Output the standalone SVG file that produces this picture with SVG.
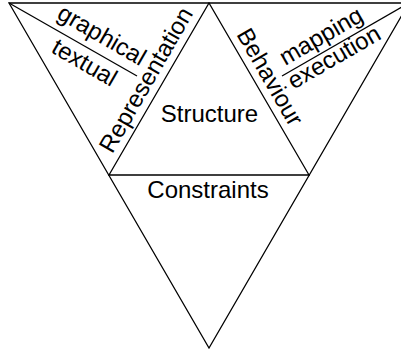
<svg xmlns="http://www.w3.org/2000/svg" width="401" height="353" viewBox="0 0 401 353">
<style>
.ln{fill:none;stroke:#000;stroke-width:1.3;stroke-linejoin:miter}
.t{font-family:"Liberation Sans",Arial,sans-serif;font-size:24px;fill:#000;text-anchor:middle}
</style>
<rect width="401" height="353" fill="#fff"/>
<g id="outer">
<polygon class="ln" points="9,3 409,3 209,348"/>
</g>
<g id="structure">
<polygon class="ln" points="109,175 209,3 309,175"/>
<text class="t" x="209.5" y="122">Structure</text>
</g>
<g id="constraints">
<text class="t" x="208" y="197.5">Constraints</text>
</g>
<g id="representation">
<text class="t" x="153" y="84" transform="rotate(-60 153 84)">Representation</text>
<text class="t" x="98" y="42" transform="rotate(30 98 42)">graphical</text>
<text class="t" x="80.5" y="69.5" transform="rotate(30 80.5 69.5)">textual</text>
</g>
<g id="behaviour">
<text class="t" x="263" y="81" transform="rotate(60 263 81)">Behaviour</text>
<text class="t" x="325" y="43" transform="rotate(-30 325 43)">mapping</text>
<text class="t" x="338" y="64" transform="rotate(-30 338 64)">execution</text>
</g>
<g id="connectors">
<line class="ln" x1="9" y1="3" x2="137" y2="76"/>
<line class="ln" x1="409" y1="3" x2="282" y2="76"/>
</g>
</svg>
